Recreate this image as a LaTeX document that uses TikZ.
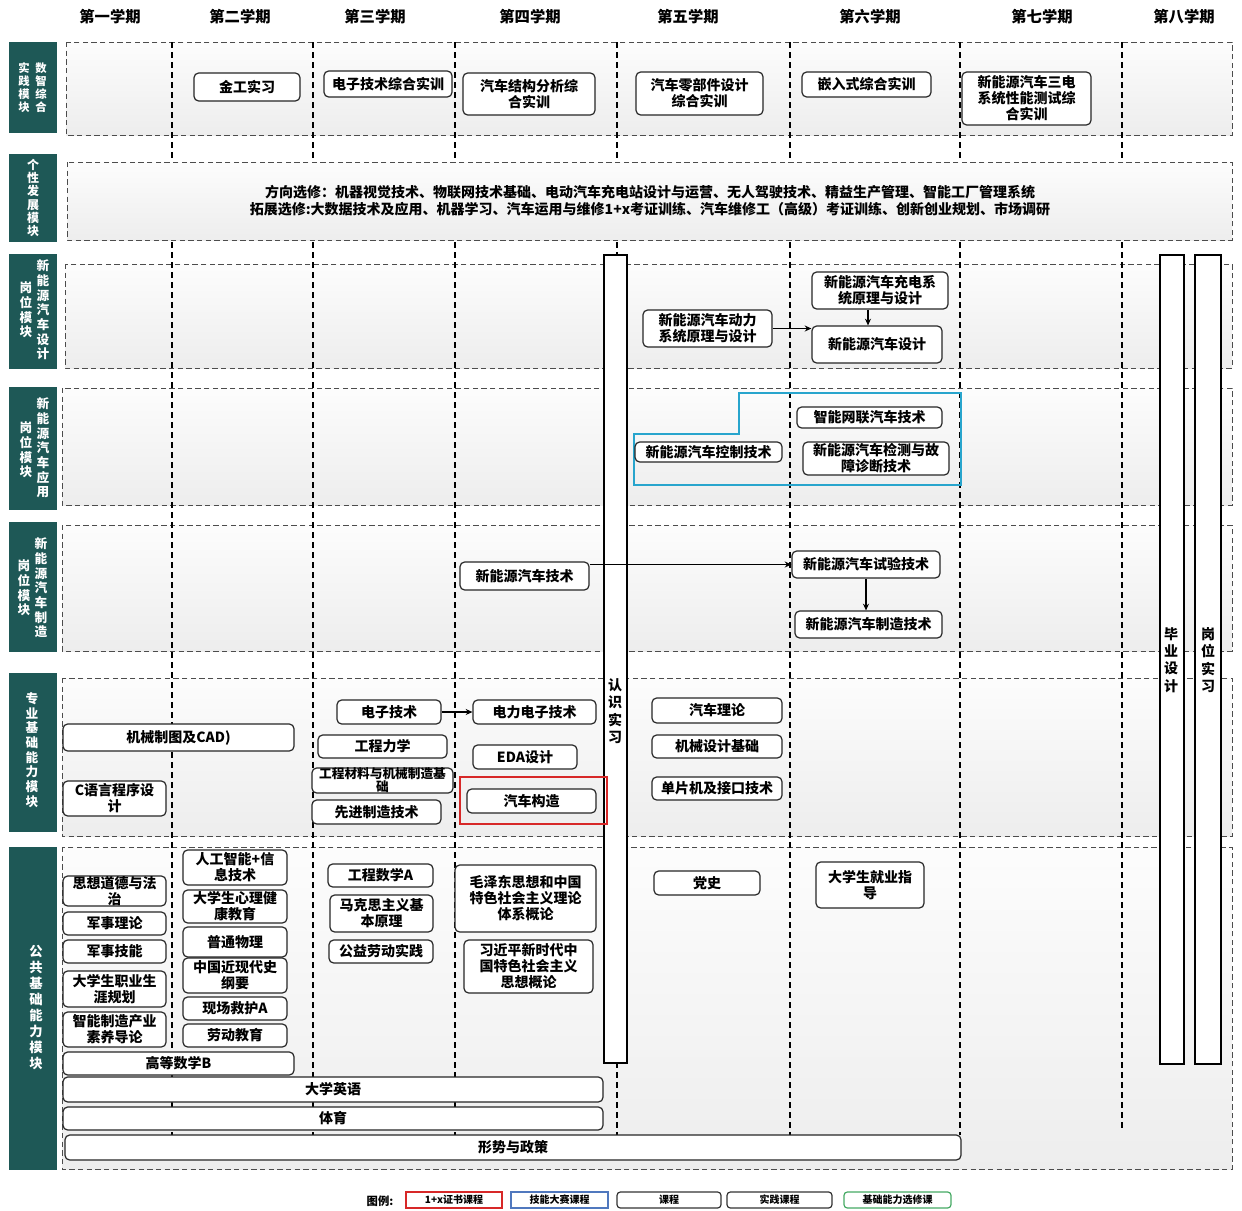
\documentclass[tikz,border=0pt]{standalone}
\usepackage{fontspec}
\setmainfont{Noto Sans CJK SC}
\usetikzlibrary{arrows.meta}
\definecolor{tealc}{RGB}{30,88,86}
\definecolor{cyanc}{RGB}{40,165,205}
\definecolor{redc}{RGB}{215,40,40}
\definecolor{greenc}{RGB}{70,170,100}
\definecolor{bluec}{RGB}{80,120,190}
\newcommand\bx[7][course]{\node[#1,minimum width={(#5-#3)*0.75pt},minimum height={(#6-#4)*0.75pt}] (#2) at ({(#3+#5)/2},{(#4+#6)/2}) {#7};}
\tikzset{
  rowbox/.style={draw=black!70, dash pattern=on 4pt off 2.5pt, line width=0.75pt, top color=black!1, bottom color=black!7},
  colline/.style={draw=black, dash pattern=on 4.5pt off 3pt, line width=0.9pt},
  tealbox/.style={fill=tealc, draw=none, inner sep=0pt},
  tealtxt/.style={text=white, font=\fontsize{9.5}{11}\selectfont\bfseries, align=center, inner sep=0pt},
  course/.style={draw=black!85, line width=0.9pt, rounded corners=3.5pt, fill=white, align=center, inner sep=0pt, font=\fontsize{10.5}{12}\selectfont\bfseries},
  barbox/.style={draw=black, line width=0.9pt, fill=white, inner sep=0pt},
  bartxt/.style={font=\fontsize{10.5}{13}\selectfont\bfseries, align=center, inner sep=0pt},
  head/.style={font=\fontsize{11.5}{13}\selectfont\bfseries, inner sep=0pt},
  rowtxt/.style={font=\fontsize{10.5}{12}\selectfont\bfseries, inner sep=0pt},
  arr/.style={-{Stealth[length=5pt,width=4.5pt]}, line width=0.8pt, black},
  legbase/.style={line width=0.9pt, fill=white, align=center, inner sep=0pt, font=\fontsize{7.5}{9}\selectfont\bfseries},
  legred/.style={legbase, draw=redc},
  legblue/.style={legbase, draw=bluec},
  legc/.style={legbase, draw=black!80, rounded corners=2.5pt},
  leggreen/.style={legbase, draw=greenc, rounded corners=2.5pt},
}
\begin{document}
\begin{tikzpicture}[x=0.75pt,y=-0.75pt]
\useasboundingbox (0,0) rectangle (1242,1210);
% row backgrounds
\path[rowbox] (66,42) rectangle (1232,135);
\path[rowbox] (65,264) rectangle (1232,368);
\path[rowbox] (62,388) rectangle (1232,505);
\path[rowbox] (62,525) rectangle (1232,651);
\path[rowbox] (62,678) rectangle (1232,836);
\path[rowbox] (62,847) rectangle (1232,1169);
% column lines
\foreach \cx in {172,313,455,617,790,960} {\draw[colline] (\cx,42) -- (\cx,1135);}
\draw[colline] (1122,42) -- (1122,1130);
\path[rowbox] (67,162) rectangle (1232,240);
% headers
\node[head] (h1) at (110,17) {第一学期};
\node[head] (h2) at (240,17) {第二学期};
\node[head] (h3) at (375,17) {第三学期};
\node[head] (h4) at (530,17) {第四学期};
\node[head] (h5) at (688,17) {第五学期};
\node[head] (h6) at (870,17) {第六学期};
\node[head] (h7) at (1042,17) {第七学期};
\node[head] (h8) at (1184,17) {第八学期};
% teal labels
\bx[tealbox]{t1}{9}{42}{57}{133}{}
\bx[tealbox]{t2}{9}{154}{57}{242}{}
\bx[tealbox]{t3}{9}{254}{57}{369}{}
\bx[tealbox]{t4}{9}{387}{57}{510}{}
\bx[tealbox]{t5}{9}{522}{57}{652}{}
\bx[tealbox]{t6}{9}{673}{57}{832}{}
\bx[tealbox]{t7}{9}{847}{57}{1170}{}
\node[tealtxt,font=\fontsize{8.5}{9.75}\selectfont\bfseries] (t1a) at (41,88) {数\\智\\综\\合};
\node[tealtxt,font=\fontsize{8.5}{9.75}\selectfont\bfseries] (t1b) at (24,88) {实\\践\\模\\块};
\node[tealtxt,font=\fontsize{9}{10}\selectfont\bfseries] (t2a) at (33,198) {个\\性\\发\\展\\模\\块};
\node[tealtxt] (t3a) at (43,310) {新\\能\\源\\汽\\车\\设\\计};
\node[tealtxt] (t3b) at (26,310) {岗\\位\\模\\块};
\node[tealtxt] (t4a) at (43,448) {新\\能\\源\\汽\\车\\应\\用};
\node[tealtxt] (t4b) at (26,450) {岗\\位\\模\\块};
\node[tealtxt] (t5a) at (41,588) {新\\能\\源\\汽\\车\\制\\造};
\node[tealtxt] (t5b) at (24,588) {岗\\位\\模\\块};
\node[tealtxt] (t6a) at (32,750) {专\\业\\基\\础\\能\\力\\模\\块};
\node[tealtxt,font=\fontsize{10}{12}\selectfont\bfseries] (t7a) at (36,1008) {公\\共\\基\\础\\能\\力\\模\\块};
% row 2 text
\node[rowtxt] (fx) at (650,192) {方向选修：机器视觉技术、物联网技术基础、电动汽车充电站设计与运营、无人驾驶技术、精益生产管理、智能工厂管理系统};
\node[rowtxt] (tz) at (650,209) {拓展选修:大数据技术及应用、机器学习、汽车运用与维修1+x考证训练、汽车维修工（高级）考证训练、创新创业规划、市场调研};
% bars
\bx[barbox]{rs}{604}{255}{627}{1063}{}
\bx[barbox]{bysj}{1160}{255}{1184}{1064}{}
\bx[barbox]{gwsx}{1195}{255}{1221}{1064}{}
\node[bartxt] (rst) at (615,711) {认\\识\\实\\习};
\node[bartxt] (byt) at (1171,660) {毕\\业\\设\\计};
\node[bartxt] (gwt) at (1208,660) {岗\\位\\实\\习};
% row 1
\bx{jg}{194}{73}{300}{101}{金工实习}
\bx{dzsx}{324}{71}{452}{97}{电子技术综合实训}
\bx{qcjg}{463}{73}{595}{115}{汽车结构分析综\\合实训}
\bx{lbj}{636}{72}{763}{115}{汽车零部件设计\\综合实训}
\bx{qrs}{802}{72}{931}{97}{嵌入式综合实训}
\bx{sd}{962}{72}{1091}{125}{新能源汽车三电\\系统性能测试综\\合实训}
% row 3
\bx{dl}{643}{310}{772}{347}{新能源汽车动力\\系统原理与设计}
\bx{cd}{812}{272}{948}{309}{新能源汽车充电系\\统原理与设计}
\bx{sj}{812}{326}{942}{363}{新能源汽车设计}
% row 4
\draw[cyanc, line width=1pt] (739,393) -- (961,393) -- (961,485) -- (634,485) -- (634,434) -- (739,434) -- cycle;
\bx{zn}{797}{407}{942}{428}{智能网联汽车技术}
\bx{kz}{635}{442}{782}{462}{新能源汽车控制技术}
\bx{jc}{803}{442}{949}{475}{新能源汽车检测与故\\障诊断技术}
% row 5
\bx{nt}{460}{562}{589}{590}{新能源汽车技术}
\bx{sy}{792}{551}{940}{578}{新能源汽车试验技术}
\bx{zz}{795}{611}{942}{638}{新能源汽车制造技术}
% row 6
\bx{dz}{337}{700}{441}{724}{电子技术}
\bx{dldz}{473}{700}{596}{724}{电力电子技术}
\bx{jxzt}{63}{724}{294}{751}{机械制图及CAD)}
\bx{gclx}{318}{735}{447}{758}{工程力学}
\bx{eda}{473}{745}{577}{769}{EDA设计}
\bx[course,font=\fontsize{9.5}{9.5}\selectfont\bfseries]{gccl}{312}{768}{453}{793}{工程材料与机械制造基\\础}
\bx{qcgz}{467}{789}{596}{813}{汽车构造}
\bx{cyy}{63}{781}{166}{816}{C语言程序设\\计}
\bx{xjzz}{312}{800}{441}{824}{先进制造技术}
\bx{qcll}{652}{698}{782}{723}{汽车理论}
\bx{jxsj}{652}{735}{782}{758}{机械设计基础}
\bx{dpj}{652}{777}{782}{800}{单片机及接口技术}
\draw[redc, line width=1pt] (460,777) rectangle (607,824);
% row 7
\bx{sxdd}{63}{876}{166}{906}{思想道德与法\\治}
\bx{jsll}{63}{912}{166}{935}{军事理论}
\bx{jsjn}{63}{940}{166}{963}{军事技能}
\bx{zygh}{63}{971}{166}{1007}{大学生职业生\\涯规划}
\bx{znzz}{63}{1012}{166}{1047}{智能制造产业\\素养导论}
\bx{gdsx}{63}{1052}{294}{1075}{高等数学B}
\bx{rgzn}{183}{850}{287}{885}{人工智能+信\\息技术}
\bx{xljk}{183}{890}{287}{923}{大学生心理健\\康教育}
\bx{ptwl}{183}{927}{287}{957}{普通物理}
\bx{zgjx}{183}{958}{287}{993}{中国近现代史\\纲要}
\bx{xcjh}{183}{997}{287}{1020}{现场救护A}
\bx{ldjy}{183}{1024}{287}{1047}{劳动教育}
\bx{gcsx}{328}{864}{433}{887}{工程数学A}
\bx{mks}{330}{895}{433}{932}{马克思主义基\\本原理}
\bx{gyld}{329}{940}{433}{963}{公益劳动实践}
\bx{mzd}{455}{865}{596}{932}{毛泽东思想和中国\\特色社会主义理论\\体系概论}
\bx{xjp}{464}{940}{593}{993}{习近平新时代中\\国特色社会主义\\思想概论}
\bx{dxyy}{63}{1077}{603}{1102}{大学英语}
\bx{ty}{63}{1107}{603}{1130}{体育}
\bx{xszc}{65}{1135}{961}{1160}{形势与政策}
\bx{ds}{654}{871}{760}{895}{党史}
\bx{jyzd}{816}{862}{924}{908}{大学生就业指\\导}
% arrows
\draw[arr] (dl.east) -- (dl.east -| sj.west);
\draw[arr] ([xshift=-9pt]cd.south) -- ([xshift=-9pt]cd.south |- sj.north);
\draw[arr] (sy.west -| nt.east) -- (sy.west);
\draw[arr] (sy.south) -- (sy.south |- zz.north);
\draw[arr] (dz.east) -- (dldz.west);
% legend
\node[font=\fontsize{8.5}{10}\selectfont\bfseries, inner sep=0pt] (lg) at (380,1201) {图例:};
\bx[legred]{l1}{406}{1192}{502}{1208}{1+x证书课程}
\bx[legblue]{l2}{511}{1192}{608}{1208}{技能大赛课程}
\bx[legc]{l3}{617}{1192}{721}{1208}{课程}
\bx[legc]{l4}{727}{1192}{832}{1208}{实践课程}
\bx[leggreen]{l5}{844}{1192}{951}{1208}{基础能力选修课}
\end{tikzpicture}
\end{document}
